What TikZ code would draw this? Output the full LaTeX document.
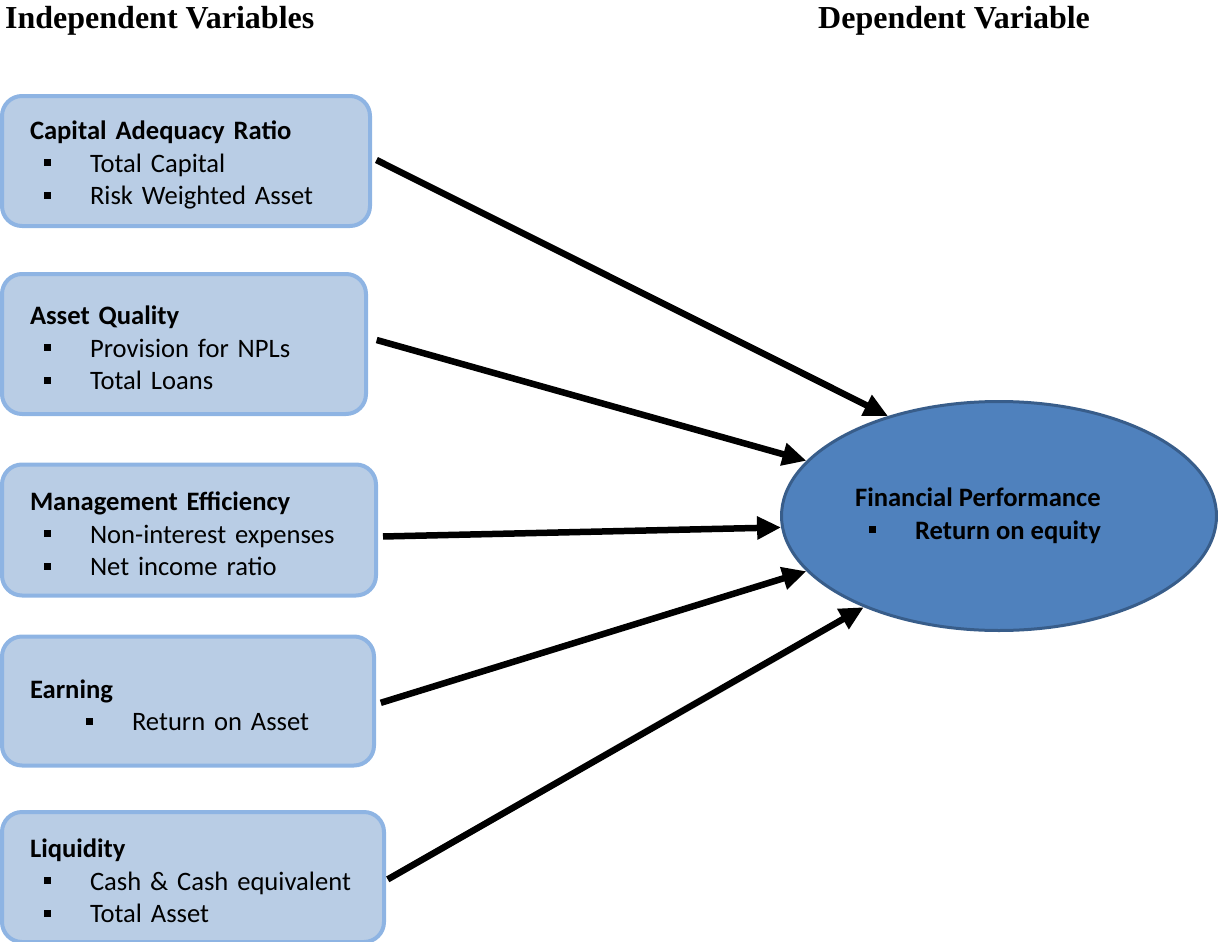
\documentclass[tikz,border=0pt]{standalone}
\usepackage{fontspec}
\setmainfont{Carlito}
\newfontfamily\headfont{Liberation Serif}
\usetikzlibrary{positioning, shapes.geometric, arrows.meta}

\definecolor{boxfill}{HTML}{B9CDE5}
\definecolor{boxline}{HTML}{8EB4E3}
\definecolor{ellfill}{HTML}{4F81BD}
\definecolor{ellline}{HTML}{385D8A}

% square bullet with its indent
\newcommand{\sqbullet}[1][14pt]{\hspace*{#1}\makebox[46pt][l]{\rule[6pt]{7pt}{7pt}}}
% first (bold) line of a box, with a strut to sit the text a bit lower
\newcommand{\boxhead}[1]{\rule{0pt}{27pt}\textbf{#1}}

\begin{document}
\begin{tikzpicture}[x=1pt, y=-1pt,
    box/.style={draw=boxline, line width=4pt, fill=boxfill, rounded corners=20pt,
                align=left, inner xsep=28pt, inner ysep=0pt,
                font=\fontsize{26.6}{32.5}\selectfont},
    title/.style={font=\headfont\bfseries\fontsize{32}{38}\selectfont,
                  anchor=base west, inner sep=0pt},
    arrow/.style={-{Triangle[length=24pt, width=22pt]}, line width=6.5pt},
]
\useasboundingbox (0,0) rectangle (1218,942);

% Column headings
\node[title] (indep) at (5,29) {Independent Variables};
\node[title] (dep) at (818,29) {Dependent Variable};

% Independent variables
\node[box, minimum width=368pt, minimum height=130pt, text width=312pt] (car) at (186,161)
    {\boxhead{Capital Adequacy Ratio}\\\sqbullet Total Capital\\\sqbullet Risk Weighted Asset};
\node[box, minimum width=364pt, minimum height=140pt, text width=308pt] (aq) at (184,344)
    {\boxhead{Asset Quality}\\\sqbullet Provision for NPLs\\\sqbullet Total Loans};
\node[box, minimum width=374pt, minimum height=131pt, text width=318pt] (me) at (189,530)
    {\boxhead{Management Efficiency}\\\sqbullet Non-interest expenses\\\sqbullet Net income ratio};
\node[box, minimum width=372pt, minimum height=129pt, text width=316pt] (earn) at (188,701)
    {\boxhead{Earning}\\\sqbullet[56pt]Return on Asset};
\node[box, minimum width=382pt, minimum height=130pt, text width=326pt] (liq) at (193,877)
    {\boxhead{Liquidity}\\\sqbullet Cash \& Cash equivalent\\\sqbullet Total Asset};

% Dependent variable
\node[ellipse, draw=ellline, line width=3pt, fill=ellfill, minimum width=435pt,
      minimum height=229pt, inner sep=0pt] (perf) at (999,516) {};
\node[align=left, inner sep=0pt, font=\bfseries\fontsize{26.6}{32.5}\selectfont]
    (perftext) at (978,516) {Financial Performance\\\sqbullet Return on equity};

% Arrows into the ellipse
\draw[arrow, shorten <=5pt] (car.1) -- (perf.138);
\draw[arrow, shorten <=9pt] (aq.2) -- (perf.164);
\draw[arrow, shorten <=5pt] (me.-2) -- (perf.183);
\draw[arrow, shorten <=5pt] (earn.-1) -- (perf.196);
\draw[arrow, shorten <=2pt] (liq.-1) -- (perf.214);

\end{tikzpicture}
\end{document}
